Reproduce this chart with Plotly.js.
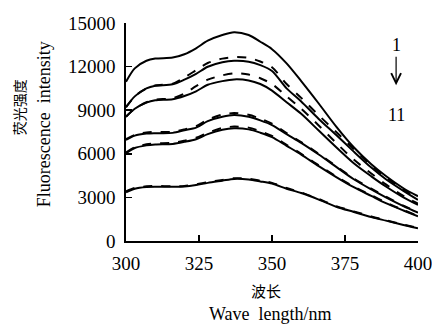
<!DOCTYPE html>
<html>
<head>
<meta charset="utf-8">
<script src="https://cdn.plot.ly/plotly-3.0.1.min.js"></script>
<style>html,body{margin:0;padding:0;background:#fff;}#chart{width:432px;height:324px;}</style>
</head>
<body>
<div id="chart"></div>
<script>
const wavelength = [300, 303, 307, 310, 316, 320, 324, 328, 333, 337, 342, 346, 350, 355, 360, 366, 372, 378, 384, 389, 395, 400];

const curve1 = [10960, 11880, 12400, 12550, 12620, 12850, 13260, 13780, 14170, 14360, 14170, 13710, 13200, 12220, 11000, 9460, 7870, 6450, 5280, 4470, 3630, 3080];
const curve2 = [9200, 9950, 10500, 10700, 10820, 11250, 11750, 12250, 12550, 12650, 12600, 12350, 11950, 10800, 9850, 8650, 7500, 6330, 5200, 4380, 3550, 2920];
const curve3 = [9200, 9950, 10500, 10680, 10780, 11100, 11500, 11990, 12300, 12400, 12340, 12100, 11700, 10500, 9600, 8400, 7290, 6150, 5050, 4250, 3450, 2830];
const curve4 = [8550, 9100, 9550, 9720, 9830, 10150, 10650, 11100, 11400, 11540, 11450, 11200, 10800, 9950, 9100, 7950, 6750, 5600, 4650, 3900, 3100, 2580];
const curve5 = [8550, 9100, 9520, 9680, 9760, 9980, 10300, 10750, 11000, 11120, 11050, 10800, 10350, 9550, 8750, 7600, 6450, 5350, 4450, 3750, 3000, 2480];
const curve6 = [7000, 7300, 7470, 7500, 7520, 7680, 7900, 8350, 8700, 8800, 8680, 8420, 8080, 7420, 6800, 6000, 5150, 4300, 3600, 3050, 2430, 1980];
const curve7 = [6950, 7250, 7390, 7420, 7440, 7620, 7800, 8250, 8550, 8670, 8550, 8300, 7980, 7350, 6750, 5950, 5100, 4250, 3550, 3000, 2400, 1950];
const curve8 = [6100, 6450, 6650, 6720, 6750, 6900, 7100, 7450, 7780, 7870, 7800, 7550, 7230, 6620, 6000, 5200, 4450, 3750, 3150, 2650, 2130, 1730];
const curve9 = [6030, 6400, 6580, 6640, 6680, 6820, 7000, 7350, 7650, 7750, 7680, 7450, 7150, 6550, 5950, 5150, 4400, 3700, 3100, 2600, 2100, 1700];
const curve10 = [3420, 3650, 3760, 3780, 3770, 3790, 3900, 4050, 4200, 4320, 4280, 4150, 4000, 3650, 3340, 2890, 2400, 2040, 1690, 1430, 1130, 900];
const curve11 = [3350, 3600, 3720, 3740, 3730, 3750, 3850, 4000, 4150, 4270, 4230, 4100, 3950, 3600, 3300, 2850, 2360, 2000, 1650, 1400, 1100, 870];

const curves = [curve1, curve2, curve3, curve4, curve5, curve6, curve7, curve8, curve9, curve10, curve11];
const dashes = ['solid', 'dash', 'solid', 'dash', 'solid', 'dash', 'solid', 'dash', 'solid', 'dash', 'solid'];

const xTicks = [300, 325, 350, 375, 400];
const yTicks = [0, 3000, 6000, 9000, 12000, 15000];

const serif = 'Liberation Serif';
const cjk = 'Noto Sans CJK SC';

const traces = curves.map((c, i) => ({
  x: wavelength,
  y: c,
  type: 'scatter',
  mode: 'lines',
  line: {color: '#000', width: 2, dash: dashes[i], shape: 'spline', smoothing: 0.8},
  hoverinfo: 'skip',
  showlegend: false
}));

const layout = {
  width: 432,
  height: 324,
  margin: {l: 126, r: 14, t: 23, b: 83},
  paper_bgcolor: '#fff',
  plot_bgcolor: '#fff',
  showlegend: false,
  font: {family: serif, color: '#000'},
  xaxis: {
    range: [300, 400],
    tickvals: xTicks,
    ticktext: xTicks.map(String),
    ticks: 'inside',
    ticklen: 6,
    tickwidth: 1.5,
    tickcolor: '#000',
    showline: true,
    linecolor: '#000',
    linewidth: 1.8,
    showgrid: false,
    zeroline: false,
    ticklabelstandoff: 4,
    ticklabeloverflow: 'allow',
    tickfont: {family: serif, size: 19, color: '#000'}
  },
  yaxis: {
    range: [0, 15000],
    tickvals: yTicks,
    ticktext: yTicks.map(String),
    ticks: 'inside',
    ticklen: 6,
    tickwidth: 1.5,
    tickcolor: '#000',
    showline: true,
    linecolor: '#000',
    linewidth: 1.8,
    showgrid: false,
    zeroline: false,
    ticklabelstandoff: 5,
    ticklabeloverflow: 'allow',
    tickfont: {family: serif, size: 19, color: '#000'}
  },
  annotations: [
    {xref: 'paper', yref: 'paper', x: -0.365, y: 0.615, xanchor: 'center', yanchor: 'middle', text: '荧光强度', textangle: -90, showarrow: false,
     font: {family: cjk, size: 14, color: '#000'}},
    {xref: 'paper', yref: 'paper', x: -0.278, y: 0.535, xanchor: 'center', yanchor: 'middle', text: 'Fluorescence  intensity', textangle: -90, showarrow: false,
     font: {family: serif, size: 18, color: '#000'}},
    {xref: 'paper', yref: 'paper', x: 0.48, y: -0.225, xanchor: 'center', yanchor: 'middle', text: '波长', showarrow: false,
     font: {family: cjk, size: 15, color: '#000'}},
    {xref: 'paper', yref: 'paper', x: 0.495, y: -0.335, xanchor: 'center', yanchor: 'middle', text: 'Wave  length/nm', showarrow: false,
     font: {family: serif, size: 18, color: '#000'}},
    {xref: 'paper', yref: 'paper', x: 0.925, y: 0.9, xanchor: 'center', yanchor: 'middle', text: '1', showarrow: false,
     font: {family: serif, size: 18, color: '#000'}},
    {xref: 'paper', yref: 'paper', x: 0.925, y: 0.578, xanchor: 'center', yanchor: 'middle', text: '11', showarrow: false,
     font: {family: serif, size: 18, color: '#000'}},
    {xref: 'paper', yref: 'paper', x: 0.925, y: 0.715, text: '', showarrow: true,
     ax: 0, ay: -30, arrowhead: 5, arrowsize: 1.6, arrowwidth: 1.2, arrowcolor: '#000', standoff: 0}
  ]
};

Plotly.newPlot('chart', traces, layout, {displayModeBar: false, staticPlot: true});
</script>
</body>
</html>
